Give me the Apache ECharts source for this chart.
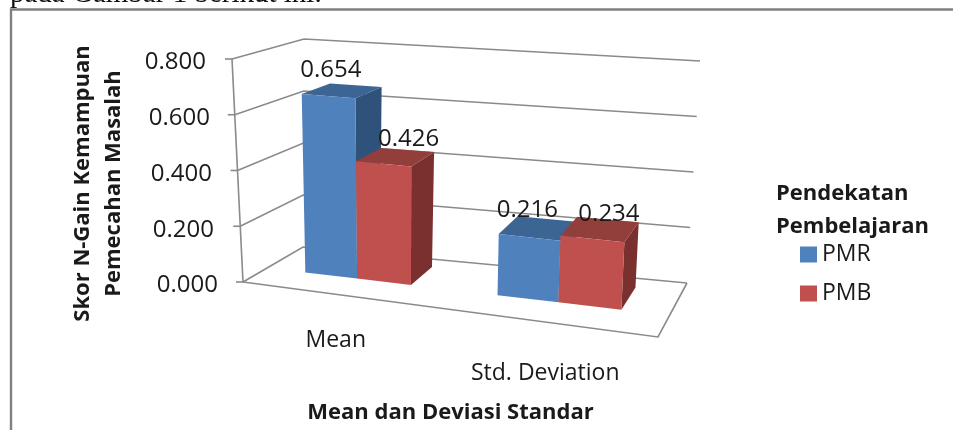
<!DOCTYPE html>
<html><head><meta charset="utf-8">
<style>html,body{margin:0;padding:0;background:#fff}#c{width:953px;height:430px}</style>
<script src="https://cdn.jsdelivr.net/npm/echarts@6/dist/echarts.min.js"></script>
</head><body><div id="c"></div>
<script>
const categories = ['Mean', 'Std. Deviation'];
const pmrValues = [0.654, 0.216];
const pmbValues = [0.426, 0.234];
const yTicks = [0, 0.2, 0.4, 0.6, 0.8];
const seriesNames = ['PMR', 'PMB'];
const xTitle = 'Mean dan Deviasi Standar';
const yTitle = 'Skor N-Gain Kemampuan\nPemecahan Masalah';
const legendTitle = 'Pendekatan\nPembelajaran';
const caption = 'pada Gambar 1 berikut ini.';

const FONT = '"Open Sans", sans-serif';
const GRID_COLOR = '#8a8a8a';
const TEXT = '#1a1a1a';
// perspective box: pixel offsets of the 8 corners from the grid's bottom-left
const BOX = {
  fl0: [0, 0], fl1: [-11, -223], bl0: [60, -35], bl1: [61, -243],
  br0: [444, 1], br1: [457, -221], fr0: [415, 55], fr1: [427, -185]
};
const lerp = (a, b, t) => a + (b - a) * t;
function project(sys, u, v, z) {
  const out = [0, 1].map(i => {
    const f0 = lerp(BOX.fl0[i], BOX.fr0[i], u), f1 = lerp(BOX.fl1[i], BOX.fr1[i], u);
    const b0 = lerp(BOX.bl0[i], BOX.br0[i], u), b1 = lerp(BOX.bl1[i], BOX.br1[i], u);
    return lerp(lerp(f0, f1, v), lerp(b0, b1, v), z);
  });
  return [sys.x + out[0], sys.y + sys.height + out[1]];
}
const Z_FRONT = 0.4, Z_BACK = 0.83, BAR_FRAC = 0.285;
const warp = u => u - 0.037 * Math.sin(Math.PI * u);
const LABEL_OFFSET = [[[-25, -15], [-20, -9]], [[1, -11], [1, -5]]];

function barRenderer(seriesIndex, front, top, side) {
  return function (params, api) {
    const sys = params.coordSys;
    const cat = api.value(0);
    const c = api.coord([cat, api.value(1)]);
    const band = api.size([1, 0])[0] / sys.width;
    const uc = (c[0] - sys.x) / sys.width;
    const v = (sys.y + sys.height - c[1]) / sys.height;
    const a = seriesIndex === 0 ? uc - band * BAR_FRAC : uc;
    const b = seriesIndex === 0 ? uc : uc + band * BAR_FRAC;
    const uL = warp(a), uR = warp(b);
    const p = (u, h, z) => project(sys, u, h, z);
    const poly = (pts, fill) => ({ type: 'polygon', shape: { points: pts }, style: { fill: fill } });
    const tb = p((uL + uR) / 2, v, Z_BACK);
    const off = LABEL_OFFSET[seriesIndex][cat];
    return {
      type: 'group',
      children: [
        poly([p(uR, 0, Z_FRONT), p(uR, 0, Z_BACK), p(uR, v, Z_BACK), p(uR, v, Z_FRONT)], side),
        poly([p(uL, v, Z_FRONT), p(uL, v, Z_BACK), p(uR, v, Z_BACK), p(uR, v, Z_FRONT)], top),
        poly([p(uL, 0, Z_FRONT), p(uR, 0, Z_FRONT), p(uR, v, Z_FRONT), p(uL, v, Z_FRONT)], front),
        { type: 'text', z2: 50, style: {
            text: api.value(1).toFixed(3), font: '24px ' + FONT, fill: TEXT,
            x: tb[0] + off[0], y: tb[1] + off[1],
            align: 'center', verticalAlign: 'middle' } }
      ]
    };
  };
}
function wallRenderer(params, api) {
  const sys = params.coordSys;
  const c = api.coord([0, api.value(0)]);
  const v = (sys.y + sys.height - c[1]) / sys.height;
  const st = { stroke: GRID_COLOR, lineWidth: 1.6, fill: 'none' };
  const fl = project(sys, 0, v, 0), bl = project(sys, 0, v, 1), br = project(sys, 1, v, 1);
  const children = [
    { type: 'polyline', shape: { points: [fl, bl, br] }, style: st },
    { type: 'line', shape: { x1: fl[0] - 7, y1: fl[1], x2: fl[0], y2: fl[1] }, style: st }
  ];
  if (v === 0) {
    const fr = project(sys, 1, 0, 0), top = project(sys, 0, 1, 0);
    children.push({ type: 'polyline', shape: { points: [fl, fr, br] }, style: st });
    children.push({ type: 'line', shape: { x1: fl[0], y1: fl[1], x2: top[0], y2: top[1] }, style: st });
  }
  return { type: 'group', children };
}
const yPad = [0, 4, 6, 8, 12];
const yRich = {};
yTicks.forEach((t, i) => { yRich['t' + i] = { padding: [7, yPad[i], 0, 0], fontSize: 24, fontFamily: FONT, color: TEXT }; });

const chart = echarts.init(document.getElementById('c'), null, { renderer: 'canvas' });
chart.setOption({
  animation: false,
  backgroundColor: '#fff',
  title: [{
    text: legendTitle, left: 776, top: 177,
    textStyle: { fontFamily: FONT, fontSize: 22, fontWeight: 'bold', color: TEXT, lineHeight: 33 }, padding: 0
  }],
  legend: {
    data: seriesNames, orient: 'vertical', left: 800, top: 243, padding: 0,
    icon: 'rect', itemWidth: 17, itemHeight: 16, itemGap: 16,
    textStyle: { fontFamily: FONT, fontSize: 23, color: TEXT }
  },
  grid: { left: 243, top: 59, width: 415, height: 223, containLabel: false },
  xAxis: {
    type: 'category', data: categories,
    axisLine: { show: false }, axisTick: { show: false },
    name: xTitle, nameLocation: 'middle', nameGap: 120,
    nameTextStyle: { fontFamily: FONT, fontSize: 22, fontWeight: 'bold', color: TEXT },
    axisLabel: {
      interval: 0, margin: 0,
      formatter: (s, i) => '{c' + i + '|' + s + '}',
      rich: {
        c0: { padding: [47, 22, 0, 0], fontSize: 23, fontFamily: FONT, color: TEXT },
        c1: { padding: [80, 18, 0, 0], fontSize: 23, fontFamily: FONT, color: TEXT }
      }
    }
  },
  yAxis: {
    type: 'value', min: 0, max: 0.8, interval: 0.2,
    axisLine: { show: false }, axisTick: { show: false }, splitLine: { show: false },
    name: yTitle, nameLocation: 'middle', nameGap: 114, nameRotate: 90,
    nameTextStyle: { fontFamily: FONT, fontSize: 22, fontWeight: 'bold', color: TEXT, lineHeight: 31, padding: [0, 26, 0, 0] },
    axisLabel: {
      margin: 25,
      formatter: v => '{t' + Math.round(v / 0.2) + '|' + v.toFixed(3) + '}',
      rich: yRich
    }
  },
  graphic: [
    { type: 'text', left: 10, top: -20, style: { text: caption, font: '29px "Liberation Serif", serif', fill: '#111' } },
    { type: 'polyline', silent: true, shape: { points: [[11, 430], [11, 9.5], [953, 9.5]] }, style: { stroke: '#808080', lineWidth: 2.4, fill: 'none' } }
  ],
  series: [
    { type: 'custom', name: 'walls', coordinateSystem: 'cartesian2d', z: 1, clip: false, silent: true,
      renderItem: wallRenderer, encode: { y: 0 }, data: yTicks.map(t => [t]) },
    { type: 'custom', name: seriesNames[0], coordinateSystem: 'cartesian2d', z: 3, clip: false,
      itemStyle: { color: '#4f81bd' }, encode: { x: 0, y: 1 },
      renderItem: barRenderer(0, '#4f81bd', '#3c6594', '#2f527a'),
      data: pmrValues.map((v, i) => [i, v]) },
    { type: 'custom', name: seriesNames[1], coordinateSystem: 'cartesian2d', z: 4, clip: false,
      itemStyle: { color: '#c0504d' }, encode: { x: 0, y: 1 },
      renderItem: barRenderer(1, '#c0504d', '#923f3c', '#7a302e'),
      data: pmbValues.map((v, i) => [i, v]) }
  ]
});
</script></body></html>
